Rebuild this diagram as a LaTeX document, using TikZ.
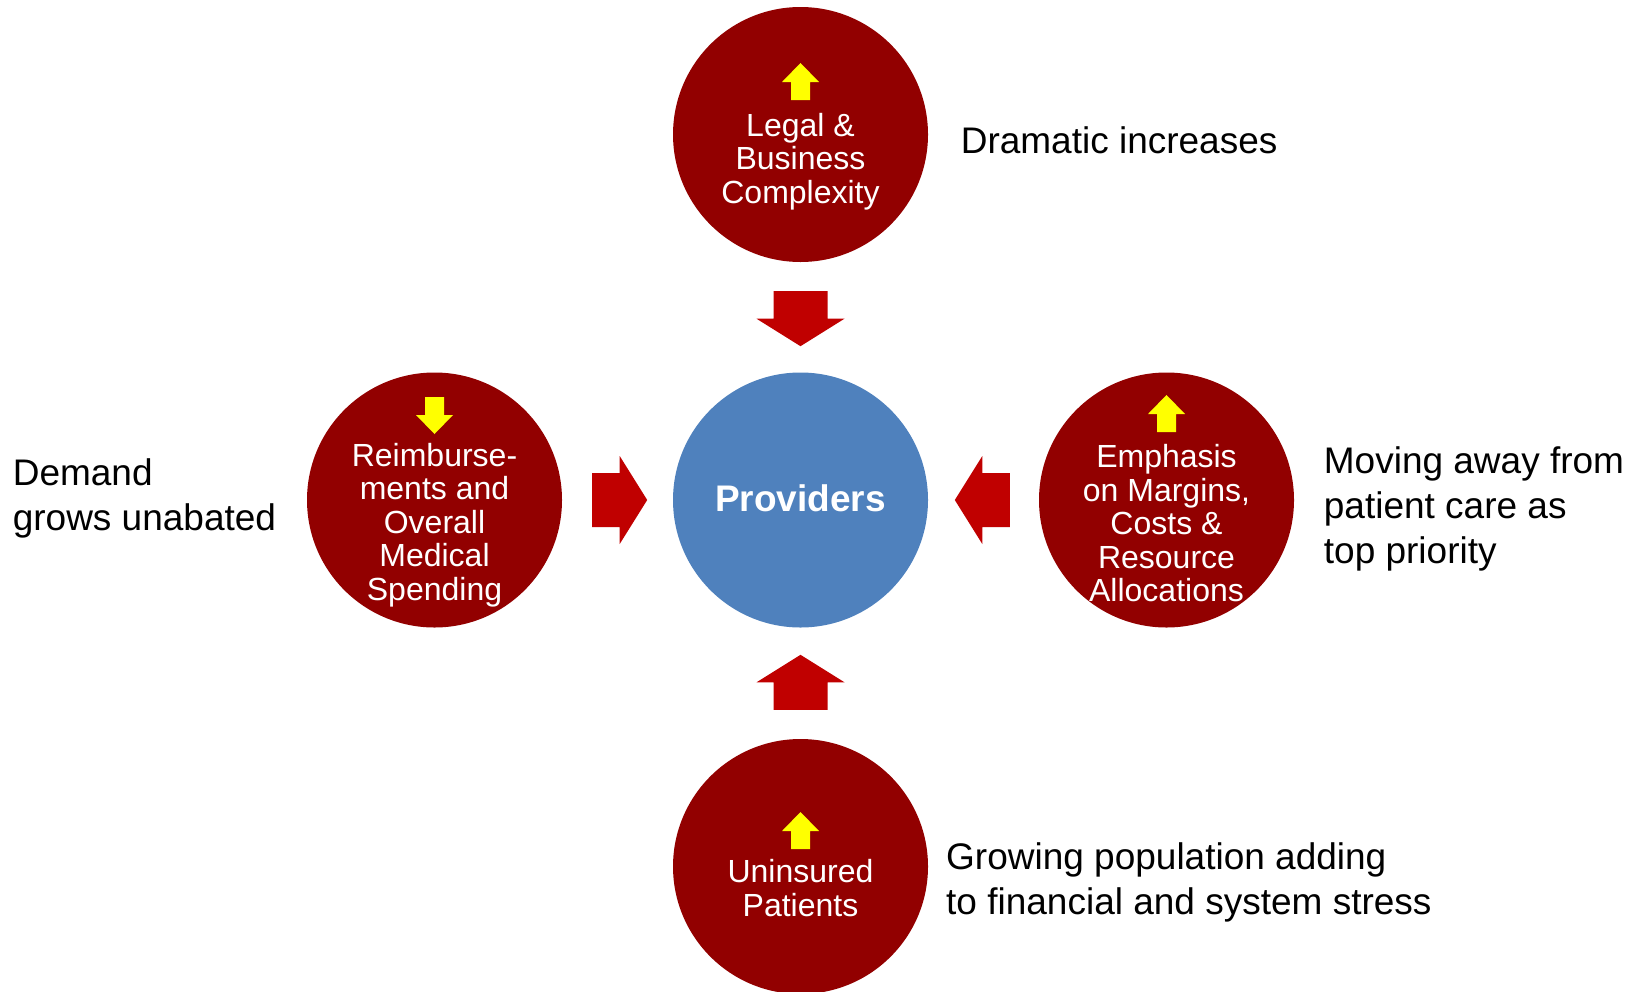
\documentclass[tikz,border=0pt]{standalone}
\usepackage{fontspec}
\setmainfont{Liberation Sans}
\definecolor{circred}{RGB}{146,0,0}
\definecolor{arrowred}{RGB}{192,0,0}
\definecolor{provblue}{RGB}{79,129,189}
\definecolor{upyellow}{RGB}{255,255,0}
\tikzset{
  redcirc/.style={circle, fill=circred, minimum size=255pt, inner sep=0pt},
  bluecirc/.style={circle, fill=provblue, minimum size=255pt, inner sep=0pt},
  circtext/.style={text=white, align=center, inner sep=0pt, font=\fontsize{32}{33.5}\selectfont},
  sidetext/.style={text=black, align=left, anchor=west, inner sep=0pt, font=\fontsize{37}{45}\selectfont},
  bigarrow/.pic={\fill[arrowred] (0,-27) -- (27.5,-27) -- (27.5,-44) -- (55,0) -- (27.5,44) -- (27.5,27) -- (0,27) -- cycle;},
  smallarrow/.pic={\fill[upyellow] (0,-9.5) -- (18,-9.5) -- (18,-18.5) -- (37,0) -- (18,18.5) -- (18,9.5) -- (0,9.5) -- cycle;}
}
\begin{document}
\begin{tikzpicture}[x=1pt,y=-1pt]
\useasboundingbox (0,0) rectangle (1640,991);
% circles
\node[bluecirc] (prov) at (800.5,500) {};
\node[redcirc] (top) at (800.5,134.5) {};
\node[redcirc] (left) at (434.5,500) {};
\node[redcirc] (right) at (1166.5,500) {};
\node[redcirc] (bot) at (800.5,866.5) {};
% circle texts
\node[text=white, inner sep=0pt, font=\fontsize{37}{40}\selectfont\bfseries] (provtxt) at ([yshift=2pt]prov.center) {Providers};
\node[circtext] (toptxt) at ([yshift=-27pt]top.center) {Legal \&\\Business\\Complexity};
\node[circtext] (lefttxt) at ([yshift=-25pt]left.center) {Reimburse-\\ments and\\Overall\\Medical\\Spending};
\node[circtext] (righttxt) at ([yshift=-23.5pt]right.center) {Emphasis\\on Margins,\\Costs \&\\Resource\\Allocations};
\node[circtext] (bottxt) at ([yshift=-21.5pt]bot.center) {Uninsured\\Patients};
% yellow arrows
\path ([yshift=34.5pt]top.center) pic[rotate=90] {smallarrow};
\path ([yshift=103pt]left.center) pic[rotate=-90] {smallarrow};
\path ([yshift=68pt]right.center) pic[rotate=90] {smallarrow};
\path ([yshift=17.5pt]bot.center) pic[rotate=90] {smallarrow};
% block arrows
\path ([yshift=-29pt]top.south) pic[rotate=-90] {bigarrow};
\path ([yshift=29pt]bot.north) pic[rotate=90] {bigarrow};
\path ([xshift=30pt]left.east) pic {bigarrow};
\path ([xshift=-29pt]right.west) pic[rotate=180] {bigarrow};
% side texts
\node[sidetext] (t1) at (960.6,140) {Dramatic increases};
\node[sidetext] (t2) at (12.6,498.4) {Demand\\grows unabated};
\node[sidetext] (t3) at (1323.7,509.3) {Moving away from\\patient care as\\top priority};
\node[sidetext] (t4) at (946,882.4) {Growing population adding\\to financial and system stress};
\end{tikzpicture}
\end{document}
